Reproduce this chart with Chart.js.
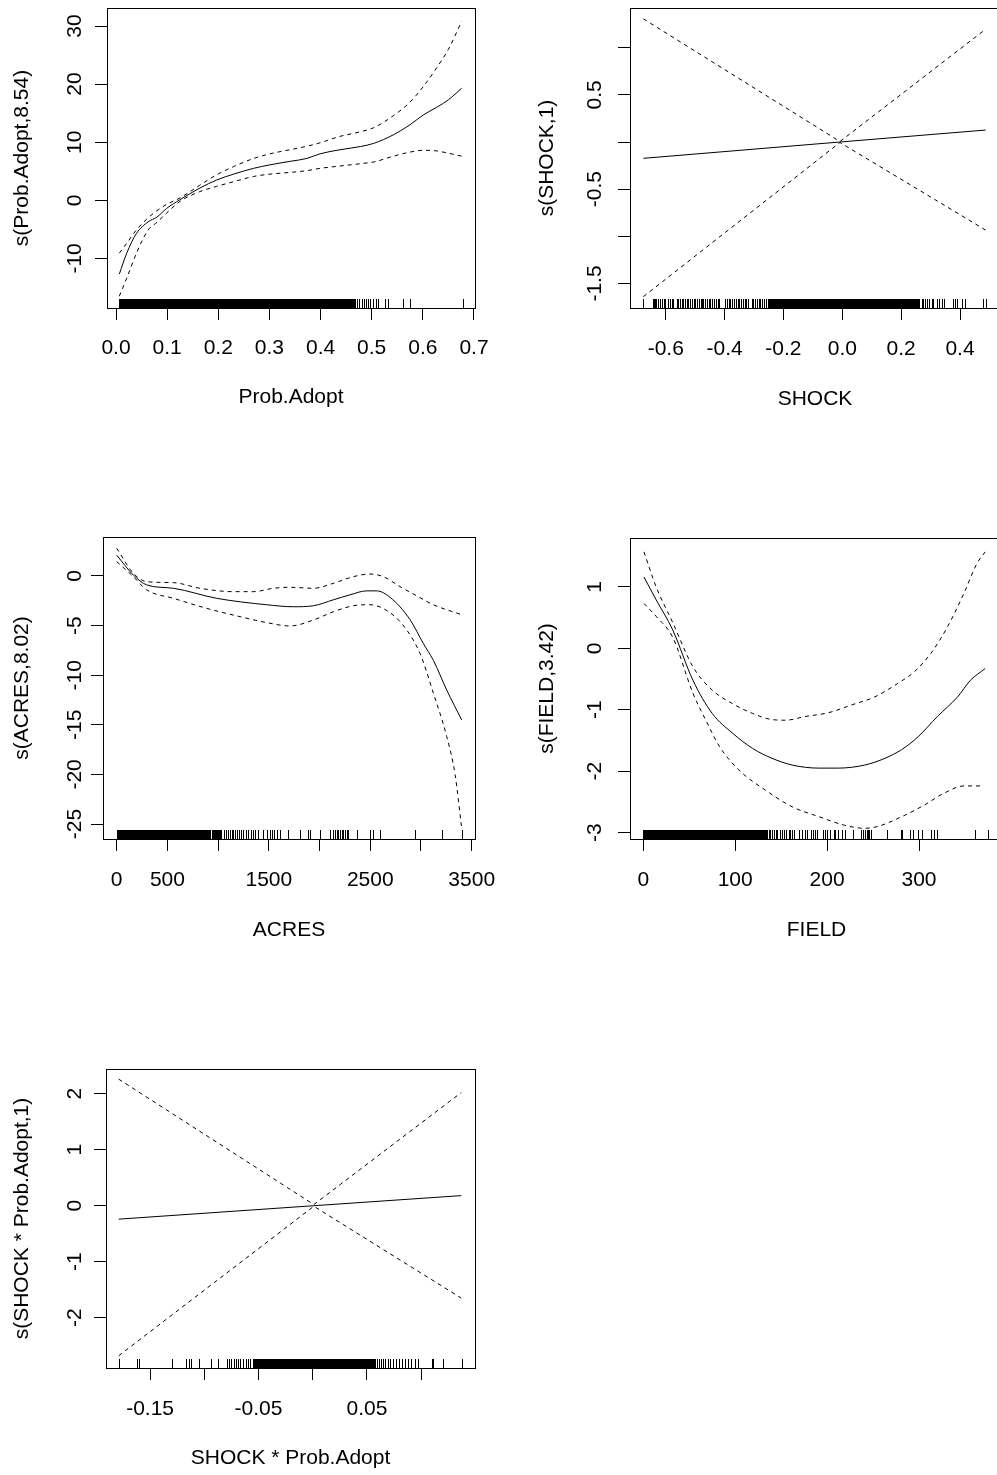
<!DOCTYPE html>
<html lang="en">
<head>
<meta charset="UTF-8">
<title>GAM smooth terms</title>
<script src="https://cdn.jsdelivr.net/npm/chart.js"></script>
<style>
    body { margin: 0; background: #fff; width: 997px; height: 1475px; overflow: hidden; position: relative; }
    canvas { position: absolute; }
</style>
</head>
<body>
<canvas id="pAdopt"></canvas>
<canvas id="pShock"></canvas>
<canvas id="pAcres"></canvas>
<canvas id="pField"></canvas>
<canvas id="pInter"></canvas>

<script>
// ---- s(Prob.Adopt,8.54) ----
const adoptX     = [0.0065, 0.021, 0.040, 0.063, 0.080, 0.099, 0.125, 0.164, 0.197, 0.230, 0.269, 0.301, 0.340, 0.373, 0.399, 0.438, 0.478, 0.504, 0.543, 0.575, 0.601, 0.627, 0.650, 0.676];
const adoptFit   = [-12.7, -9.1, -5.7, -3.7, -2.9, -1.4, 0.1, 2.1, 3.5, 4.5, 5.5, 6.1, 6.7, 7.2, 8.0, 8.7, 9.25, 9.8, 11.3, 13.0, 14.7, 16.0, 17.3, 19.3];
const adoptUpper = [-9.1, -7.4, -5.1, -3.0, -1.8, -0.7, 0.4, 2.6, 4.4, 5.8, 7.2, 8.0, 8.7, 9.3, 9.9, 11.0, 11.8, 12.5, 14.6, 16.9, 19.6, 22.8, 26.0, 30.8];
const adoptLower = [-16.5, -13.4, -9.1, -5.1, -3.8, -2.2, -0.2, 1.5, 2.4, 3.2, 4.1, 4.5, 4.8, 5.1, 5.5, 5.9, 6.3, 6.6, 7.6, 8.3, 8.6, 8.5, 8.1, 7.6];
const adoptRug      = [0.468, 0.472, 0.476, 0.481, 0.485, 0.489, 0.493, 0.497, 0.502, 0.509, 0.513, 0.526, 0.531, 0.562, 0.574, 0.678];
const adoptRugDense = [[0.005, 0.387], [0.390, 0.420], [0.423, 0.434], [0.437, 0.465]];
const adoptXTicks  = [0, 0.1, 0.2, 0.3, 0.4, 0.5, 0.6, 0.7];
const adoptXLabels = ['0.0', '0.1', '0.2', '0.3', '0.4', '0.5', '0.6', '0.7'];
const adoptYTicks  = [-10, 0, 10, 20, 30];
const adoptYLabels = ['-10', '0', '10', '20', '30'];

// ---- s(SHOCK,1) ----
const shockX     = [-0.676, -0.008, 0.487];
const shockFit   = [-0.173, 0.0, 0.127];
const shockUpper = [1.306, 0.005, 1.196];
const shockLower = [-1.640, -0.005, -0.934];
const shockRug = [-0.676, -0.644, -0.640, -0.636, -0.632, -0.626, -0.618, -0.612, -0.606, -0.602,
    -0.591, -0.586, -0.580, -0.574, -0.563, -0.557, -0.551, -0.545, -0.540,
    -0.534, -0.529, -0.523, -0.517, -0.511, -0.505, -0.499, -0.493, -0.486, -0.480, -0.477,
    -0.472, -0.466, -0.460, -0.454, -0.448, -0.442, -0.436, -0.430, -0.424, -0.418,
    -0.398, -0.393, -0.386, -0.380, -0.374, -0.368, -0.362, -0.356, -0.350, -0.344, -0.338, -0.332, -0.326, -0.320,
    -0.308, -0.302, -0.296, -0.290, -0.284, -0.278, -0.272, -0.266, -0.260, -0.254,
    0.270, 0.275, 0.281, 0.287, 0.296, 0.304, 0.309, 0.321, 0.330, 0.338, 0.346,
    0.375, 0.383, 0.391, 0.406, 0.417, 0.477, 0.489];
const shockRugDense = [[-0.248, 0.262]];
const shockXTicks  = [-0.6, -0.4, -0.2, 0, 0.2, 0.4];
const shockXLabels = ['-0.6', '-0.4', '-0.2', '0.0', '0.2', '0.4'];
const shockYTicks  = [-1.5, -1.0, -0.5, 0, 0.5, 1.0];
const shockYLabels = ['-1.5', '', '-0.5', '', '0.5', ''];

// ---- s(ACRES,8.02) ----
const acresX      = [0, 164, 296, 559, 986, 1479, 1742, 1939, 2136, 2300, 2465, 2563, 2695, 2892, 3023, 3122, 3254, 3401];
const acresFit    = [2.1, 0.1, -0.9, -1.24, -2.25, -2.9, -3.1, -3.0, -2.4, -1.9, -1.5, -1.5, -2.15, -4.4, -6.8, -8.5, -11.5, -14.5];
const acresUpperX = [0, 164, 296, 559, 822, 1150, 1347, 1544, 1709, 1939, 2136, 2333, 2497, 2629, 2793, 2958, 3122, 3401];
const acresUpper  = [2.8, 0.27, -0.57, -0.67, -1.24, -1.58, -1.58, -1.24, -1.14, -1.24, -0.74, -0.07, 0.2, -0.07, -1.07, -2.0, -2.9, -3.9];
const acresLowerX = [0, 164, 296, 559, 887, 1216, 1479, 1709, 1939, 2136, 2333, 2497, 2695, 2859, 2990, 3122, 3254, 3336, 3401];
const acresLower  = [1.45, -0.07, -1.4, -2.25, -3.26, -4.1, -4.7, -5.04, -4.44, -3.6, -3.0, -2.9, -3.7, -5.44, -7.8, -11.8, -16.2, -20.0, -25.4];
const acresRug = [1058, 1078, 1101, 1117, 1134, 1150, 1170, 1190, 1209, 1229, 1249, 1272, 1298, 1321, 1341, 1364, 1397,
    1446, 1479, 1512, 1528, 1551, 1577, 1610, 1692, 1807, 1890, 1906, 2005, 2103, 2136, 2152, 2169, 2185, 2202,
    2218, 2235, 2251, 2268, 2284, 2366, 2497, 2530, 2596, 2941, 3204, 3401];
const acresRugDense = [[0, 915], [935, 1030]];
const acresXTicks  = [0, 500, 1000, 1500, 2000, 2500, 3000, 3500];
const acresXLabels = ['0', '500', '', '1500', '', '2500', '', '3500'];
const acresYTicks  = [-25, -20, -15, -10, -5, 0];
const acresYLabels = ['-25', '-20', '-15', '-10', '-5', '0'];

// ---- s(FIELD,3.42) ----
const fieldX      = [0.7, 14, 32, 54, 75, 97, 119, 140, 162, 191, 212, 241, 263, 281, 299, 320, 342, 356, 372];
const fieldFit    = [1.16, 0.79, 0.30, -0.52, -1.06, -1.38, -1.63, -1.79, -1.90, -1.95, -1.95, -1.90, -1.79, -1.65, -1.44, -1.11, -0.79, -0.52, -0.33];
const fieldUpperX = [0.7, 14, 32, 54, 75, 97, 119, 140, 155, 176, 201, 227, 252, 277, 295, 313, 331, 349, 363, 372];
const fieldUpper  = [1.57, 1.0, 0.42, -0.30, -0.68, -0.90, -1.06, -1.16, -1.17, -1.11, -1.05, -0.92, -0.79, -0.57, -0.38, -0.08, 0.35, 0.90, 1.38, 1.57];
const fieldLowerX = [0.7, 14, 32, 54, 68, 83, 104, 133, 162, 191, 219, 241, 255, 277, 306, 327, 349, 369];
const fieldLower  = [0.73, 0.52, 0.18, -0.73, -1.17, -1.60, -1.98, -2.31, -2.58, -2.74, -2.88, -2.93, -2.90, -2.77, -2.55, -2.36, -2.24, -2.24];
const fieldRug = [137, 138, 140, 142, 144, 146, 149, 151, 153, 155, 158, 160, 162, 164, 169, 173, 176, 178, 182, 183,
    185, 187, 189, 196, 198, 200, 203, 207, 209, 212, 216, 219, 228, 237, 239, 241, 243, 245, 246, 248,
    265, 280, 282, 290, 293, 299, 303, 313, 316, 320, 361, 375];
const fieldRugDense = [[0, 83], [85, 135]];
const fieldXTicks  = [0, 100, 200, 300];
const fieldXLabels = ['0', '100', '200', '300'];
const fieldYTicks  = [-3, -2, -1, 0, 1];
const fieldYLabels = ['-3', '-2', '-1', '0', '1'];

// ---- s(SHOCK * Prob.Adopt,1) ----
const interX     = [-0.179, 0.001, 0.137];
const interFit   = [-0.24, 0.0, 0.18];
const interUpper = [2.26, 0.02, 2.02];
const interLower = [-2.68, -0.01, -1.65];
const interRug = [-0.179, -0.162, -0.160, -0.130, -0.1165, -0.114, -0.112, -0.105, -0.094, -0.087,
    -0.079, -0.077, -0.075, -0.073, -0.071, -0.069, -0.067, -0.064, -0.062, -0.060, -0.058,
    0.059, 0.061, 0.063, 0.065, 0.067, 0.069, 0.071, 0.074, 0.077, 0.080, 0.082, 0.085, 0.088, 0.091, 0.094, 0.097,
    0.110, 0.111, 0.120, 0.138];
const interRugDense = [[-0.055, 0.057]];
const interXTicks  = [-0.15, -0.10, -0.05, 0, 0.05, 0.10];
const interXLabels = ['-0.15', '', '-0.05', '', '0.05', ''];
const interYTicks  = [-2, -1, 0, 1, 2];
const interYLabels = ['-2', '-1', '0', '1', '2'];

// ---- layout ----
const FONT_FAMILY = "'Liberation Sans', Arial, sans-serif";
const FONT_SIZE = 21;
const LINE_H = FONT_SIZE * 1.2;
const TICK_LEN = 12;
const RUG_LEN = 9;
const AXIS_W = 100, AXIS_H = 112, PAD_T = 6, PAD_R = 24;

Chart.defaults.font.family = FONT_FAMILY;
Chart.defaults.font.size = FONT_SIZE;
Chart.defaults.color = '#000';

const pts = (xs, ys) => xs.map((x, i) => ({ x: x, y: ys[i] }));

// box outline round the plot region
const framePlugin = {
    id: 'frame',
    afterDraw(chart) {
        const a = chart.chartArea, ctx = chart.ctx;
        ctx.save();
        ctx.strokeStyle = '#000';
        ctx.lineWidth = 1;
        ctx.strokeRect(Math.round(a.left) + 0.5, Math.round(a.top) + 0.5,
            Math.round(a.right - a.left), Math.round(a.bottom - a.top));
        ctx.restore();
    }
};

// rug of observed x values along the bottom
const rugPlugin = {
    id: 'rug',
    afterDatasetsDraw(chart, args, opts) {
        const xs = chart.scales.x, a = chart.chartArea, ctx = chart.ctx;
        const base = Math.round(a.bottom);
        ctx.save();
        ctx.fillStyle = '#000';
        ctx.strokeStyle = '#000';
        ctx.lineWidth = 1;
        (opts.dense || []).forEach(([lo, hi]) => {
            const p0 = Math.round(xs.getPixelForValue(lo));
            const p1 = Math.round(xs.getPixelForValue(hi));
            ctx.fillRect(p0, base - RUG_LEN, p1 - p0 + 1, RUG_LEN);
        });
        ctx.beginPath();
        (opts.ticks || []).forEach(v => {
            const p = Math.round(xs.getPixelForValue(v)) + 0.5;
            ctx.moveTo(p, base);
            ctx.lineTo(p, base - RUG_LEN);
        });
        ctx.stroke();
        ctx.restore();
    }
};

const measureCtx = document.createElement('canvas').getContext('2d');
measureCtx.font = 'normal ' + FONT_SIZE + 'px ' + FONT_FAMILY;

const panels = [
    { id: 'pAdopt', box: [107, 8, 475, 308], xRange: [-0.0176, 0.702], yRange: [-18.54, 33.1],
      fit: pts(adoptX, adoptFit), upper: pts(adoptX, adoptUpper), lower: pts(adoptX, adoptLower), smooth: true,
      rug: adoptRug, rugDense: adoptRugDense,
      xTicks: adoptXTicks, xLabels: adoptXLabels, yTicks: adoptYTicks, yLabels: adoptYLabels,
      xTitle: 'Prob.Adopt', yTitle: 's(Prob.Adopt,8.54)',
      yLabelX: 75.3, yTitleX: 22.5, xLabelY: 348, xTitleY: 397 },
    { id: 'pShock', box: [630, 8, 1000, 308], xRange: [-0.7214, 0.5358], yRange: [-1.760, 1.421],
      fit: pts(shockX, shockFit), upper: pts(shockX, shockUpper), lower: pts(shockX, shockLower), smooth: false,
      rug: shockRug, rugDense: shockRugDense,
      xTicks: shockXTicks, xLabels: shockXLabels, yTicks: shockYTicks, yLabels: shockYLabels,
      xTitle: 'SHOCK', yTitle: 's(SHOCK,1)',
      yLabelX: 595.5, yTitleX: 546.8, xLabelY: 349, xTitleY: 399 },
    { id: 'pAcres', box: [103, 537, 475, 839], xRange: [-135, 3532.5], yRange: [-26.51, 3.93],
      fit: pts(acresX, acresFit), upper: pts(acresUpperX, acresUpper), lower: pts(acresLowerX, acresLower), smooth: true,
      rug: acresRug, rugDense: acresRugDense,
      xTicks: acresXTicks, xLabels: acresXLabels, yTicks: acresYTicks, yLabels: acresYLabels,
      xTitle: 'ACRES', yTitle: 's(ACRES,8.02)',
      yLabelX: 75.5, yTitleX: 22.5, xLabelY: 880.5, xTitleY: 930 },
    { id: 'pField', box: [630, 538, 1003, 839], xRange: [-14.47, 391.4], yRange: [-3.104, 1.796],
      fit: pts(fieldX, fieldFit), upper: pts(fieldUpperX, fieldUpper), lower: pts(fieldLowerX, fieldLower), smooth: true,
      rug: fieldRug, rugDense: fieldRugDense,
      xTicks: fieldXTicks, xLabels: fieldXLabels, yTicks: fieldYTicks, yLabels: fieldYLabels,
      xTitle: 'FIELD', yTitle: 's(FIELD,3.42)',
      yLabelX: 595.5, yTitleX: 546.8, xLabelY: 880, xTitleY: 930 },
    { id: 'pInter', box: [106, 1069, 475, 1368], xRange: [-0.1907, 0.1497], yRange: [-2.898, 2.441],
      fit: pts(interX, interFit), upper: pts(interX, interUpper), lower: pts(interX, interLower), smooth: false,
      rug: interRug, rugDense: interRugDense,
      xTicks: interXTicks, xLabels: interXLabels, yTicks: interYTicks, yLabels: interYLabels,
      xTitle: 'SHOCK * Prob.Adopt', yTitle: 's(SHOCK * Prob.Adopt,1)',
      yLabelX: 75, yTitleX: 22.5, xLabelY: 1409, xTitleY: 1458 }
];

function lineSet(data, dashed, smooth) {
    return {
        data: data,
        showLine: true,
        borderColor: '#000',
        borderWidth: 1,
        borderDash: dashed ? [4, 4] : [],
        pointRadius: 0,
        tension: 0,
        cubicInterpolationMode: smooth ? 'monotone' : 'default'
    };
}

// keep the plot box where it is: no automatic padding for overhanging labels
function noPadding(s) {
    s.paddingLeft = 0;
    s.paddingRight = 0;
    s.paddingTop = 0;
    s.paddingBottom = 0;
}

function drawPanel(p) {
    const cv = document.getElementById(p.id);
    const [L, T, R, B] = p.box;
    cv.width = R - L + AXIS_W + PAD_R;
    cv.height = PAD_T + (B - T) + AXIS_H;
    cv.style.left = (L - AXIS_W) + 'px';
    cv.style.top = (T - PAD_T) + 'px';

    const widest = Math.max(...p.yLabels.map(t => measureCtx.measureText(t).width));
    const yPad = (L - p.yLabelX) - TICK_LEN - widest / 2;
    const yTitlePad = p.yTitleX - (L - AXIS_W) - LINE_H / 2;
    const xPad = p.xLabelY - B - TICK_LEN - LINE_H / 2;
    const xTitlePad = (B + AXIS_H) - LINE_H / 2 - p.xTitleY;

    const gridOpts = { display: true, drawOnChartArea: false, drawTicks: true, tickLength: TICK_LEN,
                       color: '#000', tickColor: '#000', lineWidth: 1 };

    new Chart(cv, {
        type: 'scatter',
        data: { datasets: [lineSet(p.fit, false, p.smooth), lineSet(p.upper, true, p.smooth), lineSet(p.lower, true, p.smooth)] },
        options: {
            responsive: false,
            animation: false,
            events: [],
            layout: { autoPadding: false, padding: { left: 0, top: PAD_T, right: PAD_R, bottom: 0 } },
            plugins: {
                legend: { display: false },
                tooltip: { enabled: false },
                rug: { ticks: p.rug, dense: p.rugDense }
            },
            scales: {
                x: {
                    type: 'linear', bounds: 'data', min: p.xRange[0], max: p.xRange[1],
                    afterBuildTicks: s => { s.ticks = p.xTicks.map(v => ({ value: v })); },
                    afterFit: s => { s.height = AXIS_H; noPadding(s); },
                    grid: gridOpts,
                    border: { display: false },
                    ticks: { autoSkip: false, minRotation: 0, maxRotation: 0, padding: xPad, color: '#000',
                             callback: (v, i) => p.xLabels[i] },
                    title: { display: true, text: p.xTitle, color: '#000', padding: { top: 0, bottom: xTitlePad } }
                },
                y: {
                    type: 'linear', bounds: 'data', min: p.yRange[0], max: p.yRange[1],
                    afterBuildTicks: s => { s.ticks = p.yTicks.map(v => ({ value: v })); },
                    afterFit: s => { s.width = AXIS_W; noPadding(s); },
                    grid: gridOpts,
                    border: { display: false },
                    ticks: { autoSkip: false, minRotation: 90, maxRotation: 90, crossAlign: 'center',
                             padding: yPad, color: '#000', callback: (v, i) => p.yLabels[i] },
                    title: { display: true, text: p.yTitle, color: '#000', padding: { top: yTitlePad, bottom: 0 } }
                }
            }
        },
        plugins: [framePlugin, rugPlugin]
    });
}

panels.forEach(drawPanel);
</script>
</body>
</html>
